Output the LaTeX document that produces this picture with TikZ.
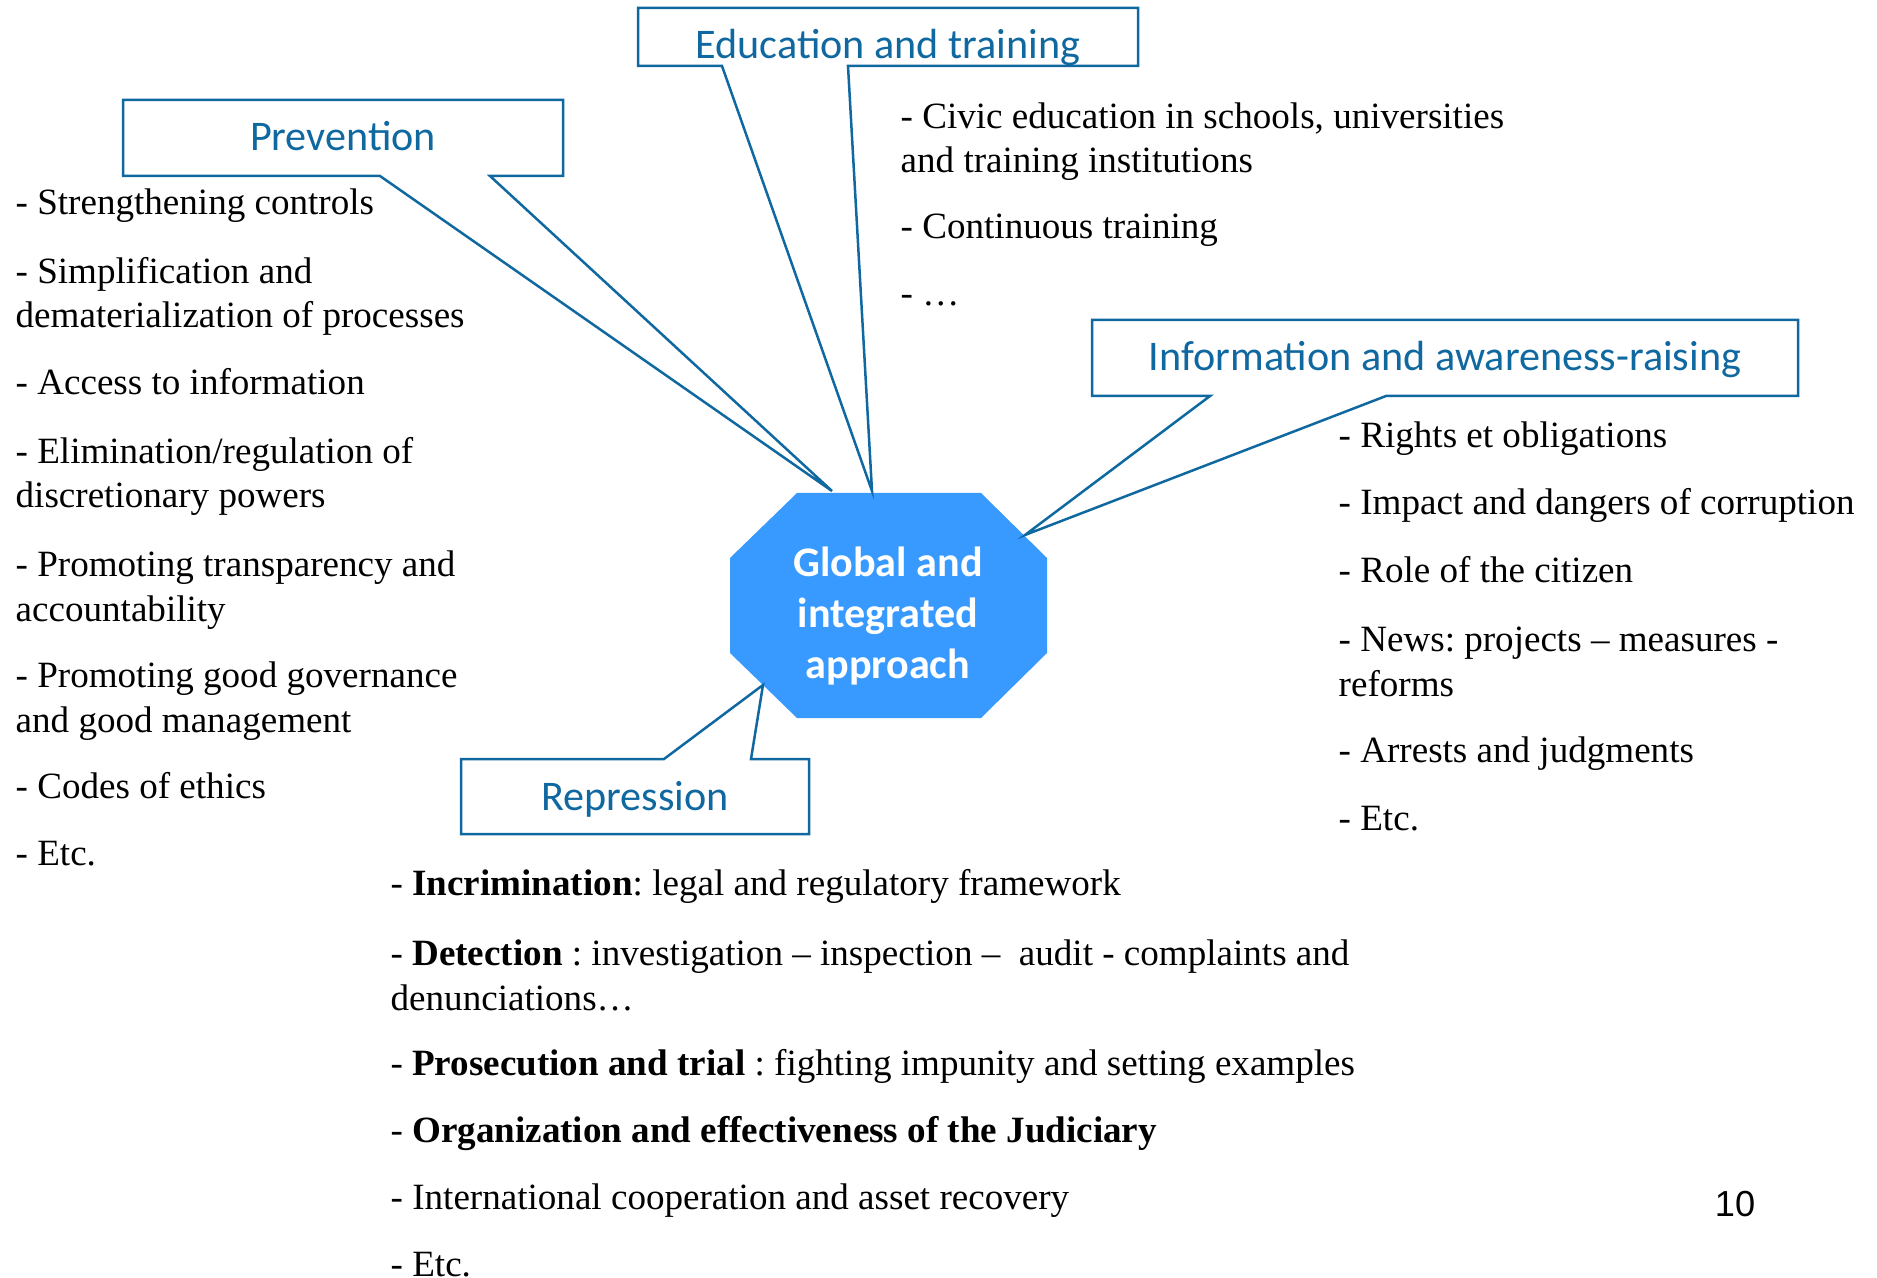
\documentclass[tikz,border=0pt]{standalone}
\usepackage{fontspec}
\setmainfont{Liberation Serif}
\newfontfamily\calibri{Carlito}
\newfontfamily\arial{Liberation Sans}
\usetikzlibrary{calc}
\definecolor{myblue}{RGB}{16,104,160}
\definecolor{mycore}{RGB}{56,153,255}
\frenchspacing

\begin{document}
\begin{tikzpicture}[x=0.1mm,y=-0.1mm]

\tikzstyle{callout} = [draw=myblue, line width=0.25mm, line join=miter]
\tikzstyle{boxtext} = [anchor=base, inner sep=0, text=myblue,
    font=\calibri\fontsize{12}{14}\selectfont]
\tikzstyle{item} = [anchor=base west, inner sep=0, align=left,
    font=\fontsize{10.55}{12.6}\selectfont]
\tikzstyle{coretext} = [inner sep=0, align=center, text=white,
    font=\calibri\bfseries\fontsize{12}{14.4}\selectfont]

\useasboundingbox (0,0) rectangle (1877,1278);

% =========================
% central octagon
% =========================
\fill[mycore] (797,493) -- (981,493) -- (1047,558) -- (1047,653)
    -- (981,718) -- (797,718) -- (730,653) -- (730,558) -- cycle;
\node[coretext] (core) at (888,616) {Global and\\integrated\\approach};

\coordinate (tipPrev) at (832,491);
\coordinate (tipEdu)  at (872,491);
\coordinate (tipInfo) at (1025,535);
\coordinate (tipRep)  at (763,685);

% =========================
% callouts
% =========================
\draw[callout] (123,100) -- (563,100) -- (563,176) -- (490,176) -- (tipPrev)
    -- (380,176) -- (123,176) -- cycle;
\node[boxtext] (prev) at (343,151) {Prevention};

\draw[callout] (638,8) -- (1138,8) -- (1138,66) -- (848,66) -- (tipEdu)
    -- (722,66) -- (638,66) -- cycle;
\node[boxtext] (edu) at (888,59) {Education and training};

\draw[callout] (1092,320) -- (1798,320) -- (1798,396) -- (1386,396) -- (tipInfo)
    -- (1210,396) -- (1092,396) -- cycle;
\node[boxtext] (info) at (1445,371) {Information and awareness-raising};

\draw[callout] (461,759) -- (664,759) -- (tipRep) -- (751,759) -- (809,759)
    -- (809,834) -- (461,834) -- cycle;
\node[boxtext] (rep) at (635,810) {Repression};

% =========================
% prevention items (base = last line)
% =========================
\node[item] (p1) at (15,215) {- Strengthening controls};
\node[item] (p2) at (15,328) {- Simplification and\\dematerialization of processes};
\node[item] (p3) at (15,395) {- Access to information};
\node[item] (p4) at (15,508) {- Elimination/regulation of\\discretionary powers};
\node[item] (p5) at (15,621) {- Promoting transparency and\\accountability};
\node[item] (p6) at (15,732) {- Promoting good governance\\and good management};
\node[item] (p7) at (15,798) {- Codes of ethics};
\node[item] (p8) at (15,865) {- Etc.};

% =========================
% education items
% =========================
\node[item] (e1) at (900,173) {- Civic education in schools, universities\\and training institutions};
\node[item] (e2) at (900,239) {- Continuous training};
\node[item] (e3) at (900,306) {- …};

% =========================
% information items
% =========================
\node[item] (i1) at (1338,448) {- Rights et obligations};
\node[item] (i2) at (1338,515) {- Impact and dangers of corruption};
\node[item] (i3) at (1338,583) {- Role of the citizen};
\node[item] (i4) at (1338,696) {- News: projects – measures -\\reforms};
\node[item] (i5) at (1338,762) {- Arrests and judgments};
\node[item] (i6) at (1338,830) {- Etc.};

% =========================
% repression items
% =========================
\node[item] (r1) at (390,895) {- \textbf{Incrimination}: legal and regulatory framework};
\node[item] (r2) at (390,1010) {- \textbf{Detection} : investigation – inspection – \ audit - complaints and\\denunciations…};
\node[item] (r3) at (390,1075) {- \textbf{Prosecution and trial} : fighting impunity and setting examples};
\node[item] (r4) at (390,1142) {- \textbf{Organization and effectiveness of the Judiciary}};
\node[item] (r5) at (390,1209) {- International cooperation and asset recovery};
\node[item] (r6) at (390,1276) {- Etc.};

% page number
\node[anchor=base, inner sep=0, font=\arial\fontsize{10.3}{12}\selectfont] (page) at (1735,1216) {10};

\end{tikzpicture}
\end{document}
